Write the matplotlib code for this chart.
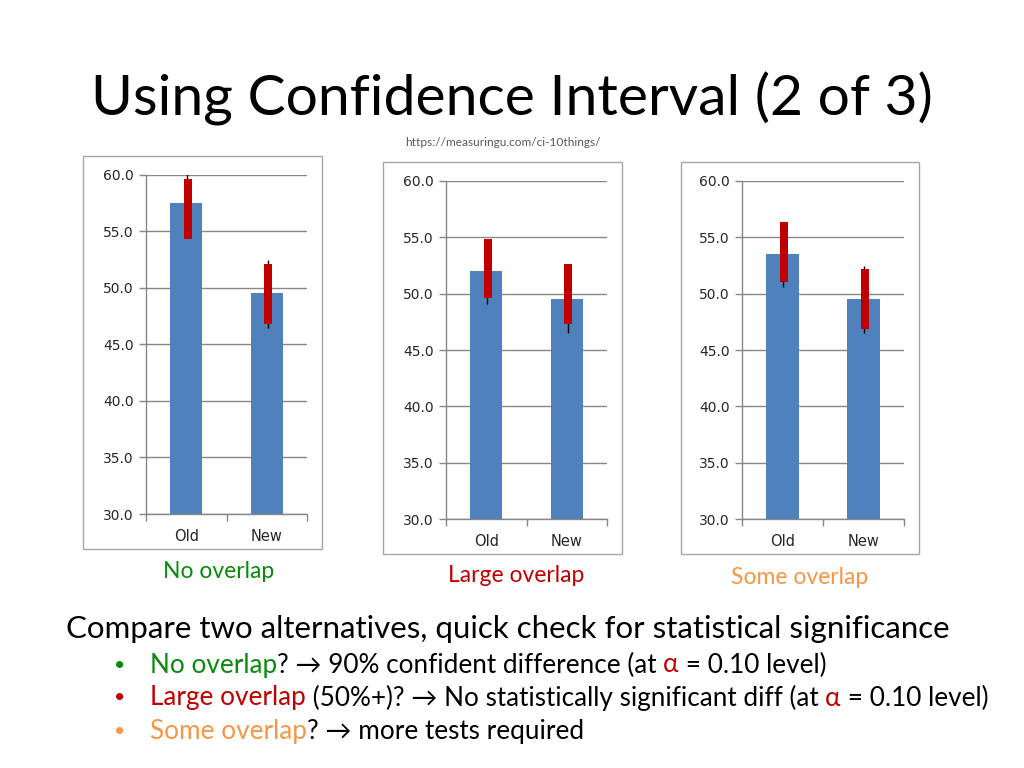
import matplotlib
matplotlib.use("Agg")
import matplotlib.pyplot as plt
from matplotlib.patches import Rectangle

plt.rcParams['font.family'] = ['Lato', 'DejaVu Sans']

# ---------------- data ----------------
categories = ["Old", "New"]
panel_labels = ["No overlap", "Large overlap", "Some overlap"]
means = [
    [57.45, 49.55],
    [52.0, 49.55],
    [53.5, 49.55],
]
ci_low = [
    [54.3, 46.75],
    [49.65, 47.3],
    [51.05, 46.9],
]
ci_high = [
    [59.6, 52.05],
    [54.8, 52.6],
    [56.35, 52.15],
]
whisk_low = [
    [54.5, 46.45],
    [49.1, 46.5],
    [50.6, 46.5],
]
whisk_high = [
    [60.05, 52.45],
    [54.8, 52.6],
    [56.35, 52.45],
]
y_ticks = [30.0, 35.0, 40.0, 45.0, 50.0, 55.0, 60.0]

W, H = 1024, 768
fig = plt.figure(figsize=(W / 100, H / 100), dpi=100)


def fx(x):
    return x / W


def fy(y):
    return 1 - y / H


# panel frames (pixels): left, top, right, bottom
frames = [(83, 156, 322, 549), (383, 162, 622, 554), (681, 162, 919, 554)]
axes_px = [(146, 174.5, 307, 514), (446, 180.7, 607, 519.3), (742, 180.7, 904, 519.3)]
label_pos = [(219, 572), (516, 575), (800, 577)]
label_colors = ["#0a8a0a", "#c00000", "#f79646"]

BLUE = "#4f81bd"
RED = "#c00000"
GRID = "#868686"

for i in range(3):
    l, t, r, b = frames[i]
    fig.patches.append(Rectangle((fx(l), fy(b)), fx(r - l), (b - t) / H,
                                 transform=fig.transFigure, fill=False,
                                 edgecolor="#a6a6a6", linewidth=1.0))
    al, at, ar, ab = axes_px[i]
    ax = fig.add_axes([fx(al), fy(ab), fx(ar - al), (ab - at) / H])
    x = list(range(len(categories)))
    ax.bar(x, means[i], width=0.4, color=BLUE, zorder=2, bottom=0)
    hl = [hh - ll for hh, ll in zip(ci_high[i], ci_low[i])]
    ax.bar([xx + 0.02 for xx in x], hl, bottom=ci_low[i], width=0.1,
           color=RED, zorder=3)
    ax.vlines([xx + 0.01 for xx in x], whisk_low[i], whisk_high[i],
              color="black", linewidth=1.0, zorder=2.5)
    ax.set_ylim(30, 60)
    ax.set_xlim(-0.5, 1.5)
    ax.set_yticks(y_ticks)
    ax.set_yticklabels([f"{v:.1f}" for v in y_ticks], fontsize=10,
                       color="#262626", family=['DejaVu Sans'])
    ax.yaxis.grid(True, color=GRID, linewidth=1.0, zorder=0)
    ax.set_axisbelow(True)
    ax.set_xticks([-0.5, 0.5, 1.5])
    ax.set_xticklabels(["", "", ""])
    ax.tick_params(axis='x', length=5, color=GRID, width=1)
    ax.tick_params(axis='y', length=5, color=GRID, width=1, pad=4)
    for xx, c in zip(x, categories):
        ax.text(xx, -0.043, c, transform=ax.get_xaxis_transform(),
                ha='center', va='top', fontsize=10.5, color="#262626",
                family=['DejaVu Sans'])
    for s in ['top', 'right']:
        ax.spines[s].set_visible(False)
    for s in ['left', 'bottom']:
        ax.spines[s].set_color(GRID)
        ax.spines[s].set_linewidth(1.0)
    fig.text(fx(label_pos[i][0]), fy(label_pos[i][1]), panel_labels[i],
             ha='center', va='center', fontsize=16.5, color=label_colors[i])

# title
fig.text(fx(512), fy(99), "Using Confidence Interval (2 of 3)", ha='center',
         va='center', fontsize=41, color="black")
fig.text(fx(503), fy(142), "https://measuringu.com/ci-10things/", ha='center',
         va='center', fontsize=8.6, color="#595959")

# body text
fig.text(fx(66), fy(629), "Compare two alternatives, quick check for statistical significance",
         ha='left', va='center', fontsize=22.5, color="black")

fig.canvas.draw()
renderer = fig.canvas.get_renderer()


def text_width(s, size):
    t1 = fig.text(0, 0, s + "|", fontsize=size)
    t2 = fig.text(0, 0, "|", fontsize=size)
    w = t1.get_window_extent(renderer).width - t2.get_window_extent(renderer).width
    t1.remove()
    t2.remove()
    return w


bullet_lines = [
    [("No overlap", "#0a8a0a"), ("? \u2192 90% confident difference (at ", "black"),
     ("\u03b1", RED), (" = 0.10 level)", "black")],
    [("Large overlap", RED), (" (50%+)? \u2192 No statistically significant diff (at ", "black"),
     ("\u03b1", RED), (" = 0.10 level)", "black")],
    [("Some overlap", "#f79646"), ("? \u2192 more tests required", "black")],
]
bullet_colors = ["#0a8a0a", RED, "#f79646"]
line_y = [665, 698, 732]
fs = 18.8
for k, (row, y) in enumerate(zip(bullet_lines, line_y)):
    fig.text(fx(120), fy(y), "\u2022", ha='center', va='center', fontsize=14,
             color=bullet_colors[k])
    xpos = 150
    for s, c in row:
        fig.text(fx(xpos), fy(y), s, ha='left', va='center', fontsize=fs, color=c)
        xpos += text_width(s, fs)

fig.savefig("out.png", dpi=100)
